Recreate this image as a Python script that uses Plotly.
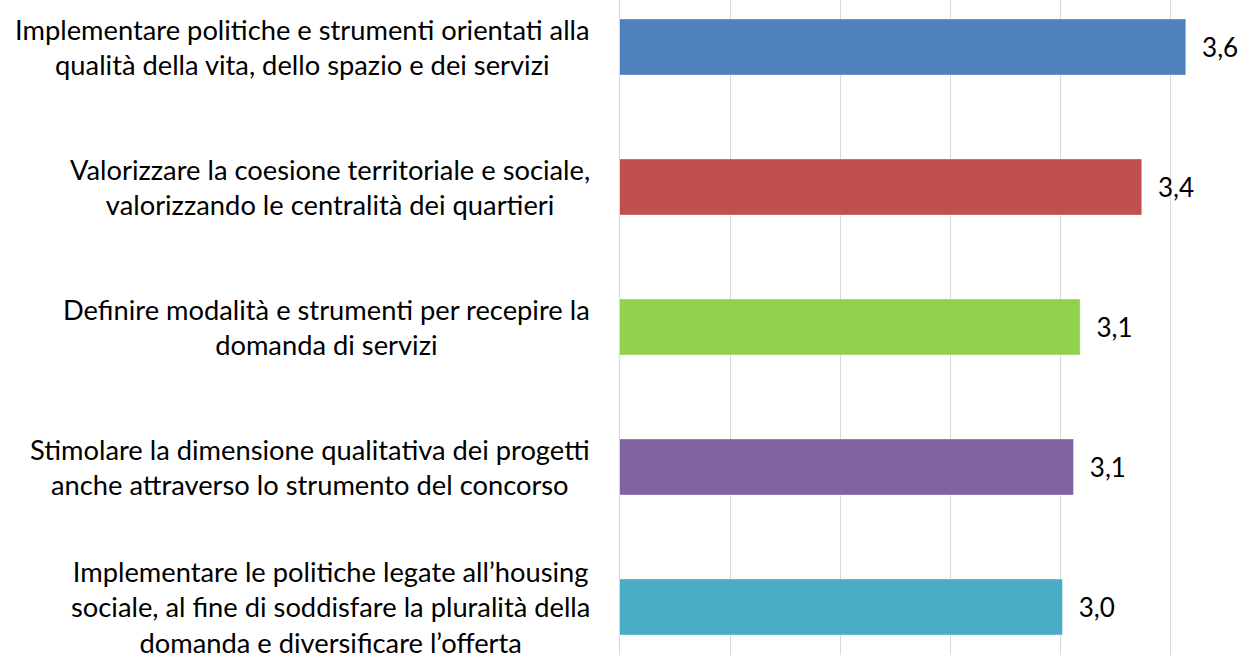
import plotly.graph_objects as go

categories = [
    "Implementare politiche e strumenti orientati alla<br>qualità della vita, dello spazio e dei servizi",
    "Valorizzare la coesione territoriale e sociale,<br>valorizzando le centralità dei quartieri",
    "Definire modalità e strumenti per recepire la<br>domanda di servizi",
    "Stimolare la dimensione qualitativa dei progetti<br>anche attraverso lo strumento del concorso",
    "Implementare le politiche legate all’housing<br>sociale, al fine di soddisfare la pluralità della<br>domanda e diversificare l’offerta",
]
values = [3.57, 3.37, 3.09, 3.06, 3.01]
colors = ["#4F81BD", "#C0504D", "#92D050", "#8064A2", "#4BACC6"]

FONT = "Lato"
labels = ["\u00a0\u00a0" + f"{v:.1f}".replace(".", ",") for v in values]

fig = go.Figure()
fig.add_trace(go.Bar(
    y=list(range(len(categories))),
    x=values,
    orientation="h",
    marker=dict(color=colors, line=dict(color="rgba(255,255,255,0.35)", width=1)),
    width=0.4,
    text=labels,
    textposition="outside",
    textfont=dict(family=FONT, size=26, color="#000000"),
    cliponaxis=False,
    hoverinfo="skip",
))

for i, c in enumerate(categories):
    fig.add_annotation(
        x=0, xref="paper", y=i, yref="y",
        text=c, showarrow=False,
        xanchor="right", yanchor="middle", align="center",
        xshift=-28,
        font=dict(family=FONT, size=27.3, color="#000000"),
    )

fig.update_layout(
    width=1243, height=655,
    margin=dict(l=620, r=0, t=0, b=0, autoexpand=False),
    paper_bgcolor="white", plot_bgcolor="white",
    showlegend=False,
    xaxis=dict(range=[1, 3.83], dtick=0.5, tick0=1, showgrid=True,
               gridcolor="#D9D9D9", gridwidth=1, showticklabels=False,
               zeroline=False, showline=False, fixedrange=True),
    yaxis=dict(range=[4.343, -0.336], showticklabels=False, showgrid=False,
               zeroline=False, showline=True, linecolor="#D9D9D9", linewidth=1,
               fixedrange=True),
)

fig.write_html("out.html", config={"displayModeBar": False},
               post_script="document.body.style.margin='0';document.body.style.overflow='hidden';")
